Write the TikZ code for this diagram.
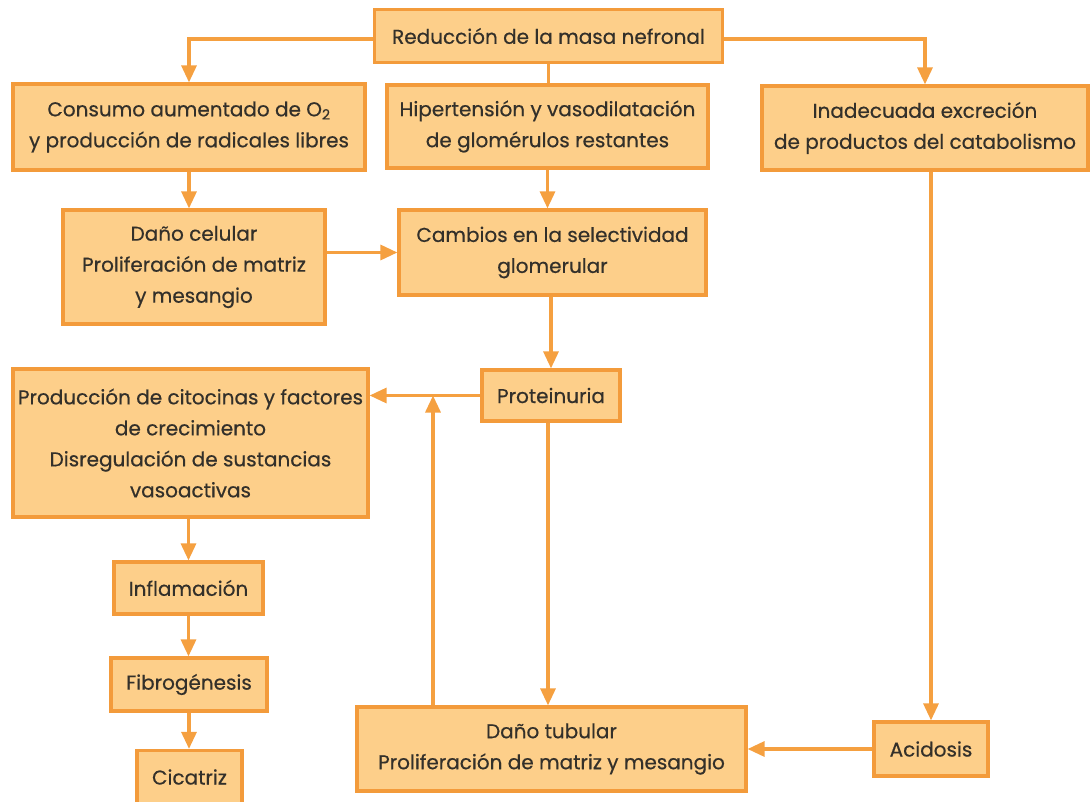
\documentclass[tikz,border=0pt]{standalone}
\usepackage{fontspec}
\setmainfont[FakeBold=0.5]{Poppins}
\usetikzlibrary{arrows.meta}
\definecolor{boxfill}{HTML}{FDCF8A}
\definecolor{boxline}{HTML}{F39B3B}
\definecolor{arrcol}{HTML}{F5A040}
\definecolor{txt}{HTML}{33302A}
\begin{document}
\begin{tikzpicture}[x=1pt,y=-1pt,
  box/.style={draw=boxline, fill=boxfill, line width=3.2pt, inner sep=0pt,
    align=center, text=txt, font=\fontsize{20}{31}\selectfont},
  arr/.style={draw=arrcol, line width=3.2pt, -{Triangle[length=17pt,width=15pt]}},
  plain/.style={draw=arrcol, line width=3.2pt}]
\useasboundingbox (0,0) rectangle (1090,802);
\node[box, minimum width=348, minimum height=53] (red) at (548.5,36) {Reducción de la masa nefronal};
\node[box, minimum width=352, minimum height=86] (cons) at (189,127) {Consumo aumentado de O\textsubscript{2}\\y producción de radicales libres};
\node[box, minimum width=321, minimum height=83] (hip) at (547.5,126.5) {Hipertensión y vasodilatación\\de glomérulos restantes};
\node[box, minimum width=326, minimum height=84] (inad) at (925,128) {Inadecuada excreción\\de productos del catabolismo};
\node[box, minimum width=262, minimum height=114] (dano) at (194,267) {Daño celular\\Proliferación de matriz\\y mesangio};
\node[box, minimum width=307, minimum height=85] (camb) at (552.5,252.5) {Cambios en la selectividad\\glomerular};
\node[box, minimum width=138, minimum height=51] (prot) at (551,395.5) {Proteinuria};
\node[box, minimum width=355, minimum height=148] (prod) at (190.5,443) {Producción de citocinas y factores\\de crecimiento\\Disregulación de sustancias\\vasoactivas};
\node[box, minimum width=149, minimum height=52] (infl) at (188.5,588) {Inflamación};
\node[box, minimum width=156, minimum height=53] (fibro) at (189,684.5) {Fibrogénesis};
\node[box, minimum width=105, minimum height=53] (cic) at (189.5,777) {Cicatriz};
\node[box, minimum width=389, minimum height=84] (tub) at (551.5,749) {Daño tubular\\Proliferación de matriz y mesangio};
\node[box, minimum width=114, minimum height=54] (acid) at (931,749) {Acidosis};
% connectors
\draw[arr] ([yshift=-3]red.west) -| (cons.north);
\draw[arr] ([yshift=-3]red.east) -| (inad.north);
\draw[plain] (red.south) -- (red.south |- hip.north);
\draw[arr] (cons.south) -- (cons.south |- dano.north);
\draw[arr] (hip.south) -- (hip.south |- camb.north);
\draw[arr] (camb.west -| dano.east) -- (camb.west);
\draw[arr] (camb.south -| prot.north) -- (prot.north);
\draw[arr] (prot.west) -- (prot.west -| prod.east);
\draw[arr] ([xshift=-3]prot.south) -- ([xshift=-3]prot.south |- tub.north);
\draw[arr] ([xshift=-118.5]tub.north) -- ([xshift=-118.5]tub.north |- prot.west);
\draw[arr] (prod.south -| infl.north) -- (infl.north);
\draw[arr] (infl.south) -- (infl.south |- fibro.north);
\draw[arr] (fibro.south) -- (fibro.south |- cic.north);
\draw[arr] (acid.north |- inad.south) -- (acid.north);
\draw[arr] (acid.west) -- (acid.west -| tub.east);
\end{tikzpicture}
\end{document}
